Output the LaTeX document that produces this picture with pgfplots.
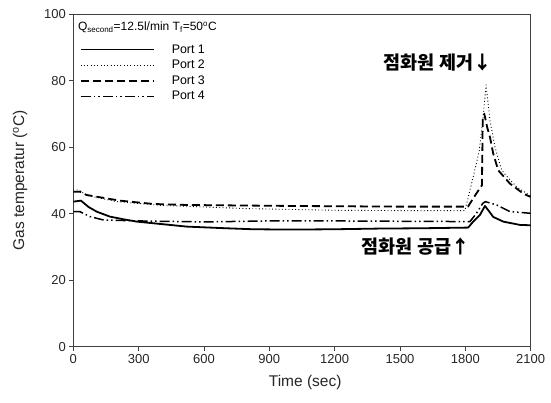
\documentclass[border=0pt]{standalone}
\usepackage{fontspec}
\setmainfont{Liberation Sans}
\newfontfamily\kr{Noto Sans CJK KR}
\usepackage{pgfplots}
\pgfplotsset{compat=1.18}

% gas temperature at four ports
\pgfplotstableread{
t v
0 43.6
35 43.9
70 42.0
107 40.6
168 39.1
230 38.3
291 37.6
444 36.6
520 36.1
700 35.6
825 35.3
1000 35.2
1200 35.3
1400 35.5
1600 35.6
1813 35.8
1836 37.6
1867 39.6
1890 42.3
1910 40.6
1928 39.0
1974 37.6
2051 36.6
2100 36.5
}\portA
\pgfplotstableread{
t v
0 47.1
25 47.1
60 45.5
200 43.6
400 42.5
800 41.5
1200 41.0
1500 40.9
1798 40.9
1836 51
1864 59
1880 68
1895 78.7
1913 68
1936 60
1967 53
2000 50.5
2036 48
2100 45.3
}\portB
\pgfplotstableread{
t v
0 46.6
30 46.6
61 45.6
214 43.9
367 42.9
520 42.6
1000 42.3
1500 42.1
1812 42.1
1852 46.2
1876 48.5
1880 69
1887 70
1900 66
1913 63
1928 58
1951 53
2005 49
2066 46
2100 45
}\portC
\pgfplotstableread{
t v
0 40.6
30 40.6
77 39.1
137 38.1
300 37.8
600 37.5
900 37.8
1200 37.8
1500 37.7
1821 37.6
1850 40
1880 43.1
1892 43.6
1944 42.6
2005 40.6
2100 40.1
}\portD

\begin{document}
\begin{tikzpicture}
\begin{axis}[
  scale only axis,
  width=457.4pt, height=332.7pt,
  xmin=0, xmax=2100, ymin=0, ymax=100,
  xtick={0,300,...,2100}, ytick={0,20,...,100},
  tick align=outside, xtick pos=bottom, ytick pos=left,
  major tick length=4pt,
  axis line style={black!75, line width=0.9pt},
  tick style={black!75, line width=0.9pt},
  /pgf/number format/assume math mode=true,
  /pgf/number format/1000 sep={},
  ticklabel style={font=\fontsize{13}{15}\selectfont, text=black!85},
  xlabel={Time (sec)},
  ylabel={Gas temperatur (\textsuperscript{o}C)},
  label style={font=\fontsize{15.5}{17}\selectfont, text=black!85},
  xlabel style={at={(axis description cs:0.507,-0.109)}, anchor=center},
  ylabel style={at={(axis description cs:-0.1165,0.5)}, anchor=center},
  every axis plot/.append style={line join=round},
  legend cell align=left,
  legend style={at={(axis description cs:0.012,0.918)}, anchor=north west,
    draw=none, fill=none, font=\fontsize{12.4}{13}\selectfont,
    row sep=1.5pt, inner sep=1pt,
    /tikz/every odd column/.append style={column sep=15pt}},
  legend image code/.code={\draw[#1] (0pt,0pt) -- (73pt,0pt);},
]
\addplot[black, line width=1.8pt] table {\portA};
\addlegendentry{Port 1}
\addplot[black, line width=0.9pt, dash pattern=on 0.9pt off 2.4pt] table {\portB};
\addlegendentry{Port 2}
\addplot[black, line width=1.8pt, dash pattern=on 8pt off 4pt] table {\portC};
\addlegendentry{Port 3}
\addplot[black, line width=1.5pt, dash pattern=on 10pt off 3pt on 1.5pt off 3pt on 1.5pt off 3pt] table {\portD};
\addlegendentry{Port 4}

\node[anchor=west, font=\fontsize{12}{14}\selectfont, inner sep=0pt]
  at (axis description cs:0.01,0.96)
  {Q\textsubscript{second}=12.5l/min T\textsubscript{f}=50\textsuperscript{o}C};
\node[anchor=east, font=\kr\bfseries\fontsize{18.5}{20}\selectfont, inner sep=0pt]
  at (axis cs:1922,85.3) {점화원 제거↓};
\node[anchor=east, font=\kr\bfseries\fontsize{18.5}{20}\selectfont, inner sep=0pt]
  at (axis cs:1821,30) {점화원 공급↑};
\end{axis}
\path ([shift={(-73.3pt,-56.3pt)}]current axis.south west)
  rectangle ([shift={(20.3pt,14pt)}]current axis.north east);
\end{tikzpicture}
\end{document}
